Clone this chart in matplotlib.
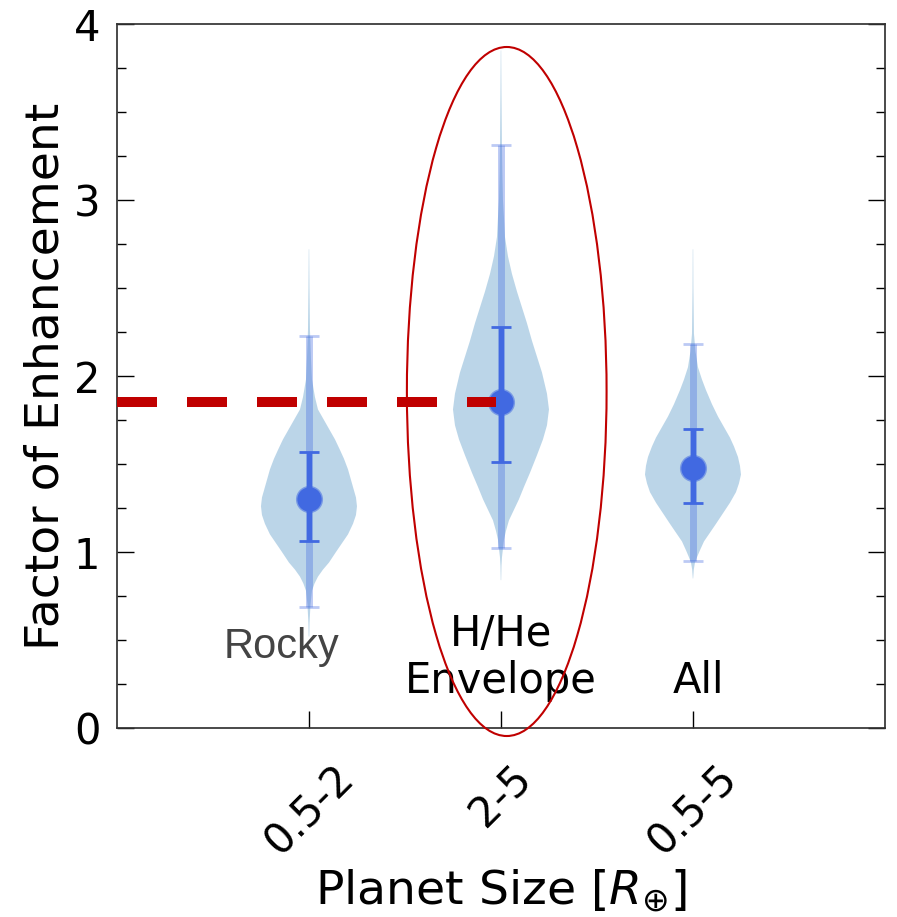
import matplotlib
matplotlib.use('Agg')
import matplotlib.pyplot as plt
from matplotlib.patches import Ellipse
from matplotlib.ticker import MultipleLocator

# ---- data ----
categories = ['0.5-2', '2-5', '0.5-5']
positions = [1, 2, 3]
medians = [1.30, 1.85, 1.48]
inner_lo = [1.06, 1.51, 1.28]
inner_hi = [1.57, 2.28, 1.70]
outer_lo = [0.69, 1.02, 0.95]
outer_hi = [2.23, 3.31, 2.18]

# violin density profiles (value, relative half-width)
rocky_y = [0.52, 0.60, 0.70, 0.78, 0.82, 0.86, 0.90, 0.94, 1.00, 1.05, 1.10, 1.16, 1.21, 1.26,
           1.31, 1.35, 1.41, 1.47, 1.53, 1.58, 1.64, 1.69, 1.75, 1.81, 1.88, 1.98, 2.10, 2.26,
           2.50, 2.72]
rocky_w = [0.3, 0.6, 1.5, 3, 5.5, 9, 14, 20, 27, 33, 39, 44, 47, 48,
           47, 45, 42, 39, 35, 31, 26, 21, 15, 9, 6, 3, 2, 1,
           0.5, 0.2]
envelope_y = [0.84, 0.92, 0.97, 1.02, 1.07, 1.12, 1.18, 1.24, 1.30, 1.37, 1.45, 1.55, 1.64,
              1.72, 1.81, 1.90, 2.02, 2.11, 2.20, 2.30, 2.39, 2.48, 2.58, 2.68, 2.79, 2.90,
              3.00, 3.15, 3.30, 3.60, 3.85]
envelope_w = [0.2, 0.5, 1, 2, 3, 5, 8, 13, 18, 23, 29, 36, 42,
              46, 48, 46, 41, 36, 31, 26, 21, 16, 11, 7, 4, 3,
              2, 1.4, 1, 0.5, 0.2]
all_y = [0.85, 0.90, 0.94, 0.97, 1.01, 1.06, 1.11, 1.16, 1.22, 1.28, 1.34, 1.39, 1.44, 1.49,
         1.54, 1.60, 1.65, 1.71, 1.77, 1.84, 1.92, 1.98, 2.05, 2.14, 2.24, 2.50, 2.72]
all_w = [0.2, 0.8, 2, 4, 7, 11, 17, 23, 30, 37, 43, 46, 48, 47,
         45, 41, 37, 31, 25, 19, 13, 9, 5, 2.5, 1, 0.4, 0.2]

reference_level = 1.85
line_end = 1.975

fig = plt.figure(figsize=(8.97, 9.17), dpi=100)
ax = fig.add_axes([0.1304, 0.2061, 0.8562, 0.7677])

profiles = [(rocky_y, rocky_w), (envelope_y, envelope_w), (all_y, all_w)]
vpstats = []
for (ys, ws), m in zip(profiles, medians):
    vpstats.append({'coords': ys, 'vals': ws, 'mean': m, 'median': m,
                    'min': min(ys), 'max': max(ys)})
parts = ax.violin(vpstats, positions=positions, widths=0.5,
                  showmeans=False, showextrema=False, showmedians=False)
for b in parts['bodies']:
    b.set_facecolor('#1f77b4')
    b.set_edgecolor('none')
    b.set_linewidth(0)
    b.set_alpha(0.3)

rb = 'royalblue'
ax.errorbar(positions, medians,
            yerr=[[m - l for m, l in zip(medians, outer_lo)],
                  [h - m for m, h in zip(medians, outer_hi)]],
            fmt='none', ecolor=rb, elinewidth=5, capsize=7.2, capthick=2,
            alpha=0.35, zorder=3)
ax.errorbar(positions, medians,
            yerr=[[m - l for m, l in zip(medians, inner_lo)],
                  [h - m for m, h in zip(medians, inner_hi)]],
            fmt='o', color=rb, ms=17.5, mec=(65/255, 105/255, 225/255, 0.55), mew=2,
            elinewidth=3.8, capsize=7.2, capthick=3.5, zorder=4)

ax.plot([0, line_end], [reference_level, reference_level], color='#c00000',
        lw=7.2, dashes=(4, 3), solid_capstyle='butt', dash_capstyle='butt',
        zorder=5, clip_on=False)

ell = Ellipse((2.03, 1.912), 1.04, 3.915, fill=False, edgecolor='#c00000',
              lw=1.5, zorder=6, clip_on=False)
ax.add_patch(ell)

ax.text(0.855, 0.40, 'Rocky', fontsize=30, color='#444444',
        family=['Liberation Sans', 'DejaVu Sans'], ha='center', va='baseline')
ax.text(2.0, 0.199, 'H/He\nEnvelope', fontsize=30, color='black',
        ha='center', va='baseline', multialignment='center', linespacing=1.15)
ax.text(3.03, 0.199, 'All', fontsize=30, color='black', ha='center', va='baseline')

ax.set_xlim(0, 4)
ax.set_ylim(0, 4)
ax.set_xticks(positions)
ax.set_xticklabels(categories, rotation=45)
ax.yaxis.set_major_locator(MultipleLocator(1))
ax.yaxis.set_minor_locator(MultipleLocator(0.25))
ax.tick_params(axis='y', which='both', direction='in', left=True, right=True)
ax.tick_params(axis='y', which='major', length=12, width=1, labelsize=30, pad=12)
ax.tick_params(axis='y', which='minor', length=6.5, width=1)
ax.tick_params(axis='x', which='major', direction='in', length=12, width=1,
               labelsize=30, pad=21, top=False)
ax.tick_params(axis='x', which='minor', bottom=False, top=False)
for s in ax.spines.values():
    s.set_linewidth(1.25)
    s.set_color('#333333')

ax.set_xlabel(r'Planet Size [$R_{\oplus}$]', fontsize=34, labelpad=3)
ax.set_ylabel('Factor of Enhancement', fontsize=34, labelpad=4)

fig.savefig('out.png', dpi=100)
